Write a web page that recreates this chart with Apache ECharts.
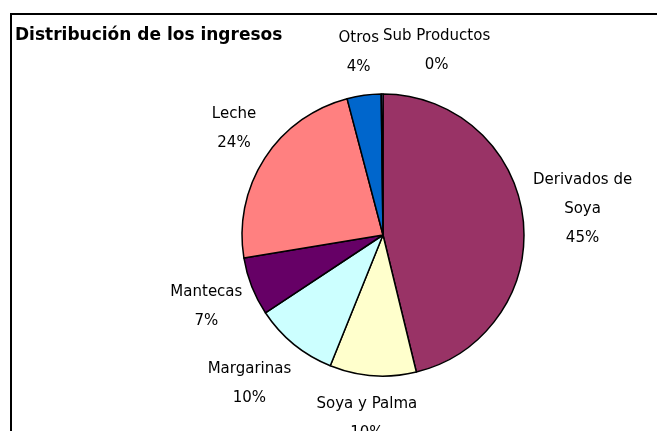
<!DOCTYPE html>
<html>
<head>
<meta charset="utf-8">
<script src="https://cdn.jsdelivr.net/npm/echarts@6/dist/echarts.min.js"></script>
<style>
  html, body { margin: 0; padding: 0; background: #fff; }
  #chart { width: 657px; height: 431px; }
</style>
</head>
<body>
<div id="chart"></div>
<script>
// pie slices, clockwise from 12 o'clock
const categories = ['Derivados de Soya', 'Soya y Palma', 'Margarinas', 'Mantecas', 'Leche', 'Otros', 'Sub Productos']
const labelNames = ['Derivados de\nSoya', 'Soya y Palma', 'Margarinas', 'Mantecas', 'Leche', 'Otros', 'Sub Productos']
const values = [46.2, 9.9, 9.6, 6.7, 23.5, 3.9, 0.2]
// percentages as printed on the chart
const percentLabels = ['45%', '10%', '10%', '7%', '24%', '4%', '0%']
const sliceColors = ['#993366', '#FFFFCC', '#CCFFFF', '#660066', '#FF8080', '#0066CC', '#9999FF']

const cx = 383
const cy = 235
const R = 141
const font = '"DejaVu Sans", sans-serif'

const chart = echarts.init(document.getElementById('chart'))

const total = values.reduce((a, b) => a + b, 0)
let placed = []

// Excel-like outside labels: anchor point a bit off the rim, the box hangs off it on the
// outer side (corner-wise on the diagonals), and slides sideways if it hits a neighbour
function placeLabel(params) {
  const i = params.dataIndex
  if (i === 0) placed = []
  let before = 0
  for (let k = 0; k < i; k++) before += values[k]
  const a = (before + values[i] / 2) / total * Math.PI * 2
  const s = Math.sin(a)
  const c = Math.cos(a)
  const w = params.labelRect.width
  const h = params.labelRect.height
  const fx = Math.min(1, Math.abs(s) / 0.7)
  const fy = Math.min(1, Math.abs(c) / 0.7)
  let x = cx + s * (R + 9) + Math.sign(s) * fx * (w / 2 + 1)
  const y = cy - c * (R + 14) - Math.sign(c) * fy * (h / 2)

  const gap = 4
  placed.forEach(b => {
    const vOverlap = Math.abs(y - b.y) < (h + b.h) / 2
    const hOverlap = Math.abs(x - b.x) < (w + b.w) / 2 + gap
    if (vOverlap && hOverlap) {
      if (x >= b.x) x = b.x + (b.w + w) / 2 + gap
      else x = b.x - (b.w + w) / 2 - gap
    }
  })
  placed.push({ x, y, w, h })

  return { x, y, align: 'center', verticalAlign: 'middle' }
}

const option = {
  animation: false,
  title: {
    text: 'Distribución de los ingresos',
    left: 10,
    top: 22,
    textStyle: {
      fontFamily: font,
      fontSize: 17,
      fontWeight: 'bold',
      color: '#000'
    }
  },
  graphic: [{
    type: 'rect',
    shape: { x: 11, y: 14, width: 700, height: 500 },
    style: { fill: 'none', stroke: '#000', lineWidth: 2 },
    silent: true
  }],
  series: [{
    type: 'pie',
    center: [cx, cy],
    radius: R,
    startAngle: 90,
    clockwise: true,
    avoidLabelOverlap: false,
    itemStyle: {
      borderColor: '#000',
      borderWidth: 1.5
    },
    label: {
      show: true,
      position: 'outside',
      fontFamily: font,
      fontSize: 15,
      lineHeight: 29,
      color: '#000',
      formatter: p => labelNames[p.dataIndex] + '\n' + percentLabels[p.dataIndex]
    },
    labelLine: { show: false },
    labelLayout: placeLabel,
    emphasis: { disabled: true },
    data: categories.map((name, i) => ({
      name,
      value: values[i],
      itemStyle: { color: sliceColors[i] }
    }))
  }]
}

chart.setOption(option)
</script>
</body>
</html>
